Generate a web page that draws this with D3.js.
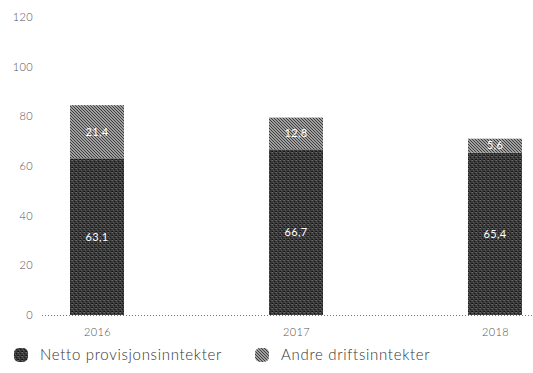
<!DOCTYPE html>
<html><head><meta charset="utf-8">
<script src="https://cdn.jsdelivr.net/npm/d3@7"></script>
<style>
html,body{margin:0;padding:0;background:#fff;}
svg{display:block;font-family:Lato, "Open Sans", sans-serif;}
</style></head>
<body><svg id="c" width="533" height="373"></svg>
<script>
const years = ["2016","2017","2018"];
const netto = [63.1, 66.7, 65.4];
const andre = [21.4, 12.8, 5.6];
const yTicks = [0,20,40,60,80,100,120];
const seriesNames = ["Netto provisjonsinntekter","Andre driftsinntekter"];

const svg = d3.select("#c");
const defs = svg.append("defs");
// dark speckled pattern
const p1 = defs.append("pattern").attr("id","pDark").attr("width",4).attr("height",4).attr("patternUnits","userSpaceOnUse");
p1.append("rect").attr("width",4).attr("height",4).attr("fill","#3a3a3a");
[[0,0,"#6a6a6a"],[2,1,"#1a1a1a"],[1,2,"#5c5c5c"],[3,3,"#222"],[3,0,"#555"],[0,3,"#111"]].forEach(([x,y,c])=>p1.append("rect").attr("x",x).attr("y",y).attr("width",1).attr("height",1).attr("fill",c));
// light hatched pattern
const p2 = defs.append("pattern").attr("id","pLight").attr("width",3).attr("height",3).attr("patternUnits","userSpaceOnUse");
p2.append("rect").attr("width",3).attr("height",3).attr("fill","#a0a0a0");
[[0,0],[1,1],[2,2]].forEach(([x,y])=>p2.append("rect").attr("x",x).attr("y",y).attr("width",1).attr("height",1).attr("fill","#3c3c3c"));

const x = d3.scalePoint().domain(years).range([97,495]);
const y = d3.scaleLinear().domain([0,120]).range([315,17]);
const bw = 54;

// y tick labels
const yAxis = d3.axisLeft(y).tickValues(yTicks).tickSize(0).tickPadding(0).tickFormat(d3.format("d"));
const ya = svg.append("g").attr("transform","translate(33,0)").call(yAxis);
ya.select(".domain").remove();
ya.selectAll("text").attr("fill","#555").attr("font-size",11).attr("font-weight",300)
  .attr("letter-spacing","0.4").attr("font-family","Lato, sans-serif");

// bars
const stackData = years.map((yr,i)=>({year:yr, netto:netto[i], andre:andre[i]}));
const stack = d3.stack().keys(["netto","andre"])(stackData);
const fills = ["url(#pDark)","url(#pLight)"];
stack.forEach((s,si)=>{
  svg.append("g").selectAll("rect").data(s).join("rect")
    .attr("x",d=>x(d.data.year)-bw/2).attr("width",bw)
    .attr("y",d=>y(d[1])).attr("height",d=>y(d[0])-y(d[1]))
    .attr("fill",fills[si]);
  svg.append("g").selectAll("text").data(s).join("text")
    .attr("x",d=>x(d.data.year)).attr("y",d=>(y(d[0])+y(d[1]))/2)
    .attr("dy","0.35em").attr("text-anchor","middle")
    .attr("fill","#fff").attr("font-size",11).attr("letter-spacing","0.3")
    .text(d=>d3.format(".1f")(d[1]-d[0]).replace(".",","));
});

// baseline dotted
svg.append("line").attr("x1",42).attr("x2",533).attr("y1",y(0)+0.5).attr("y2",y(0)+0.5)
  .attr("stroke","#777").attr("stroke-width",1).attr("stroke-dasharray","1,2");

// x axis labels
const xAxis = d3.axisBottom(x).tickSize(0).tickPadding(0);
const xa = svg.append("g").attr("transform","translate(0,328)").call(xAxis);
xa.select(".domain").remove();
xa.selectAll("text").attr("fill","#555").attr("font-size",11).attr("font-weight",300)
  .attr("letter-spacing","0.4").attr("font-family","Lato, sans-serif");

// legend
const legX = [14, 255];
const legFills = ["url(#pDark)","url(#pLight)"];
seriesNames.forEach((n,i)=>{
  const g = svg.append("g").attr("transform",`translate(${legX[i]},348)`);
  g.append("rect").attr("width",14).attr("height",14).attr("rx",5).attr("fill",legFills[i]);
  g.append("text").attr("x",26).attr("y",7).attr("dy","0.35em").attr("font-size",15)
    .attr("fill","#333").attr("font-family","Lato, sans-serif").attr("font-weight",300).attr("letter-spacing","0.7").text(n);
});
</script></body></html>
